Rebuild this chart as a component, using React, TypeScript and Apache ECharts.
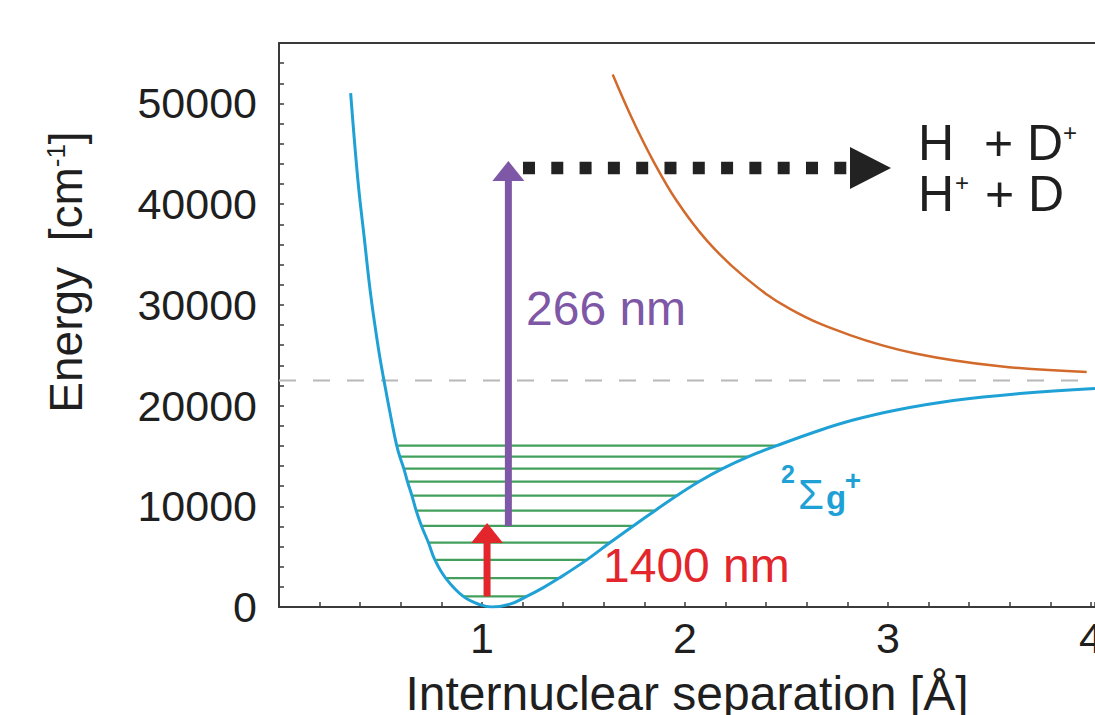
import React, { useEffect, useRef } from 'react';
import * as echarts from 'echarts';

// ---- data ----
const blueCurve: [number, number][] = [
  [0.353, 51020], [0.389, 42310], [0.420, 36660], [0.451, 31120], [0.489, 25770],
  [0.517, 22500], [0.557, 18250], [0.580, 16020], [0.595, 14940], [0.615, 13740],
  [0.633, 12440], [0.655, 11050], [0.676, 9560], [0.702, 8050], [0.736, 6400],
  [0.768, 4680], [0.821, 2870], [0.908, 1050], [0.990, 230], [1.048, 0],
  [1.138, 280], [1.220, 1050], [1.300, 1900], [1.380, 2870], [1.516, 4680], [1.631, 6400],
  [1.745, 8050], [1.852, 9560], [1.959, 11050], [2.068, 12440], [2.185, 13740],
  [2.313, 14940], [2.452, 16020], [2.665, 17550], [2.829, 18560], [3.043, 19560],
  [3.322, 20500], [3.650, 21200], [4.020, 21700],
];
const orangeCurve: [number, number][] = [
  [1.644, 52870], [1.745, 48250], [1.844, 44280], [1.959, 40330], [2.107, 36400],
  [2.287, 32880], [2.517, 29600], [2.813, 27000], [3.141, 25150], [3.552, 23900],
  [3.979, 23330],
];
const levelEnergy = [1050, 2870, 4680, 6400, 8050, 9560, 11050, 12440, 13740, 14940, 16020];
const levelLeft = [0.908, 0.821, 0.768, 0.736, 0.702, 0.676, 0.655, 0.633, 0.615, 0.595, 0.580];
const levelRight = [1.220, 1.380, 1.516, 1.631, 1.745, 1.852, 1.959, 2.068, 2.185, 2.313, 2.452];
const dissociationLimit = 22500;
const pumpArrow = [1.025, 1050, 8350];      // 1400 nm: x, from, to
const probeArrow = [1.130, 8050, 44290];    // 266 nm: x, from, to
const fragmentArrow = [1.202, 3.015, 43590]; // x from, x to, y
const xRange = [0, 4.02];
const yRange = [0, 56000];

const FONT = '"Liberation Sans", Arial, Helvetica, sans-serif';
const AXIS = '#3a3a3a';
const TXT = '#1f1f1f';
const BLUE = '#1fa1d6';
const ORANGE = '#d26a2c';
const GREEN = '#43a05c';
const PURPLE = '#7e57a6';
const RED = '#e3262b';

function verticalArrow(color: string, shaftW: number, headW: number, headL: number) {
  return (_params: any, api: any) => {
    const x = api.value(0);
    const b = api.coord([x, api.value(1)]);
    const t = api.coord([x, api.value(2)]);
    return {
      type: 'group',
      children: [
        {
          type: 'rect',
          shape: { x: b[0] - shaftW / 2, y: t[1] + headL - 1, width: shaftW, height: b[1] - t[1] - headL + 1 },
          style: { fill: color },
        },
        {
          type: 'polygon',
          shape: { points: [[t[0], t[1]], [t[0] - headW / 2, t[1] + headL], [t[0] + headW / 2, t[1] + headL]] },
          style: { fill: color },
        },
      ],
    };
  };
}

function horizontalArrow(_params: any, api: any) {
  const y = api.value(2);
  const a = api.coord([api.value(0), y]);
  const b = api.coord([api.value(1), y]);
  const headL = 41;
  const headH = 42;
  return {
    type: 'group',
    children: [
      {
        type: 'line',
        shape: { x1: a[0], y1: a[1], x2: b[0] - headL, y2: a[1] },
        style: { stroke: '#222', lineWidth: 12.5, lineDash: [12, 16.3], lineCap: 'butt' },
      },
      {
        type: 'polygon',
        shape: { points: [[b[0], b[1]], [b[0] - headL, b[1] - headH / 2], [b[0] - headL, b[1] + headH / 2]] },
        style: { fill: '#222' },
      },
    ],
  };
}

const isInt = (v: number) => Math.abs(v - Math.round(v)) < 1e-6;

export default function App() {
  const ref = useRef<HTMLDivElement>(null);
  useEffect(() => {
    if (!ref.current) return;
    const chart = echarts.init(ref.current, undefined, { renderer: 'svg' });
    const levelSeries = levelEnergy.map((e, i) => ({
      type: 'line',
      data: [[levelLeft[i], e], [levelRight[i], e]],
      showSymbol: false,
      silent: true,
      z: 2,
      lineStyle: { color: GREEN, width: 2.2 },
    }));
    chart.setOption({
      animation: false,
      backgroundColor: '#ffffff',
      textStyle: { fontFamily: FONT },
      grid: { left: 279, right: 0, top: 43, bottom: 108, containLabel: false, outerBoundsMode: 'none' },
      xAxis: [
        {
          type: 'value', min: xRange[0], max: xRange[1], interval: 0.2, position: 'bottom',
          axisLine: { show: true, onZero: false, lineStyle: { color: AXIS, width: 2 } },
          axisTick: { show: true, inside: true, length: 5, lineStyle: { color: AXIS, width: 1.5 } },
          axisLabel: {
            formatter: (v: number) => (isInt(v) && v > 0 ? String(Math.round(v)) : ''),
            fontSize: 43, color: TXT, margin: 9, fontFamily: FONT, hideOverlap: false,
          },
          splitLine: { show: false },
          name: 'Internuclear separation [Å]', nameLocation: 'middle', nameGap: 62,
          nameTextStyle: { fontSize: 48, color: TXT, fontFamily: FONT },
        },
        {
          type: 'value', min: xRange[0], max: xRange[1], position: 'top',
          axisLine: { show: true, onZero: false, lineStyle: { color: AXIS, width: 2 } },
          axisTick: { show: false }, axisLabel: { show: false }, splitLine: { show: false },
        },
      ],
      yAxis: {
        type: 'value', min: yRange[0], max: yRange[1], interval: 2000,
        axisLine: { show: true, onZero: false, lineStyle: { color: AXIS, width: 2 } },
        axisTick: { show: true, inside: true, length: 5, lineStyle: { color: AXIS, width: 1.5 } },
        axisLabel: {
          formatter: (v: number) => (v % 10000 === 0 ? String(v) : ''),
          fontSize: 43, color: TXT, margin: 22, fontFamily: FONT,
        },
        splitLine: { show: false },
      },
      series: [
        {
          type: 'line', data: [[xRange[0], dissociationLimit], [xRange[1], dissociationLimit]],
          showSymbol: false, silent: true, z: 1,
          lineStyle: { color: '#b8b8b8', width: 2, type: [17, 17] },
        },
        ...levelSeries,
        {
          type: 'custom', data: [pumpArrow], encode: { x: 0, y: [1, 2] }, z: 3,
          renderItem: verticalArrow(RED, 7, 32, 20),
        },
        {
          type: 'custom', data: [probeArrow], encode: { x: 0, y: [1, 2] }, z: 3,
          renderItem: verticalArrow(PURPLE, 7, 32, 20),
        },
        {
          type: 'custom', data: [fragmentArrow], encode: { x: [0, 1], y: 2 }, z: 3,
          renderItem: horizontalArrow,
        },
        {
          type: 'line', data: blueCurve, showSymbol: false, smooth: 0.4, silent: true, z: 4,
          lineStyle: { color: BLUE, width: 3 },
        },
        {
          type: 'line', data: orangeCurve, showSymbol: false, smooth: 0.4, silent: true, z: 5,
          lineStyle: { color: ORANGE, width: 2.5 },
        },
      ],
      graphic: [
        {
          type: 'text', x: 66, y: 272, rotation: Math.PI / 2,
          style: {
            text: '{m|Energy\u00A0 [cm}{s|-1}{m|]}',
            align: 'center', verticalAlign: 'middle', fill: TXT,
            rich: {
              m: { fontSize: 46, fontFamily: FONT, fill: TXT, lineHeight: 46, verticalAlign: 'middle' },
              s: { fontSize: 26, fontFamily: FONT, fill: TXT, lineHeight: 26, verticalAlign: 'top' },
            },
          },
        },
        { type: 'text', x: 526, y: 308, style: { text: '266 nm', fontSize: 48, fontFamily: FONT, fill: PURPLE, align: 'left', verticalAlign: 'middle' } },
        { type: 'text', x: 603, y: 565, style: { text: '1400 nm', fontSize: 48, fontFamily: FONT, fill: RED, align: 'left', verticalAlign: 'middle' } },
        { type: 'text', x: 918, y: 143, style: { text: 'H', fontSize: 50, fontFamily: FONT, fill: TXT, align: 'left', verticalAlign: 'middle' } },
        { type: 'text', x: 984, y: 143, style: { text: '+ D', fontSize: 50, fontFamily: FONT, fill: TXT, align: 'left', verticalAlign: 'middle' } },
        { type: 'text', x: 1070, y: 132, style: { text: '+', fontSize: 24, fontFamily: FONT, fill: TXT, align: 'center', verticalAlign: 'middle' } },
        { type: 'text', x: 918, y: 194, style: { text: 'H', fontSize: 50, fontFamily: FONT, fill: TXT, align: 'left', verticalAlign: 'middle' } },
        { type: 'text', x: 962, y: 182, style: { text: '+', fontSize: 24, fontFamily: FONT, fill: TXT, align: 'center', verticalAlign: 'middle' } },
        { type: 'text', x: 985, y: 194, style: { text: '+ D', fontSize: 50, fontFamily: FONT, fill: TXT, align: 'left', verticalAlign: 'middle' } },
        { type: 'text', x: 788, y: 474, style: { text: '2', fontSize: 25, fontWeight: 'bold', fontFamily: FONT, fill: BLUE, align: 'center', verticalAlign: 'middle' } },
        { type: 'text', x: 811, y: 494, style: { text: 'Σ', fontSize: 42, fontFamily: FONT, fill: BLUE, align: 'center', verticalAlign: 'middle' } },
        { type: 'text', x: 836, y: 497, style: { text: 'g', fontSize: 33, fontWeight: 'bold', fontFamily: FONT, fill: BLUE, align: 'center', verticalAlign: 'middle' } },
        { type: 'text', x: 853, y: 480, style: { text: '+', fontSize: 28, fontWeight: 'bold', fontFamily: FONT, fill: BLUE, align: 'center', verticalAlign: 'middle' } },
      ],
    });
    return () => chart.dispose();
  }, []);
  return (
    <div
      ref={ref}
      style={{ position: 'fixed', left: 0, top: 0, width: 1095, height: 715, background: '#fff' }}
    />
  );
}
